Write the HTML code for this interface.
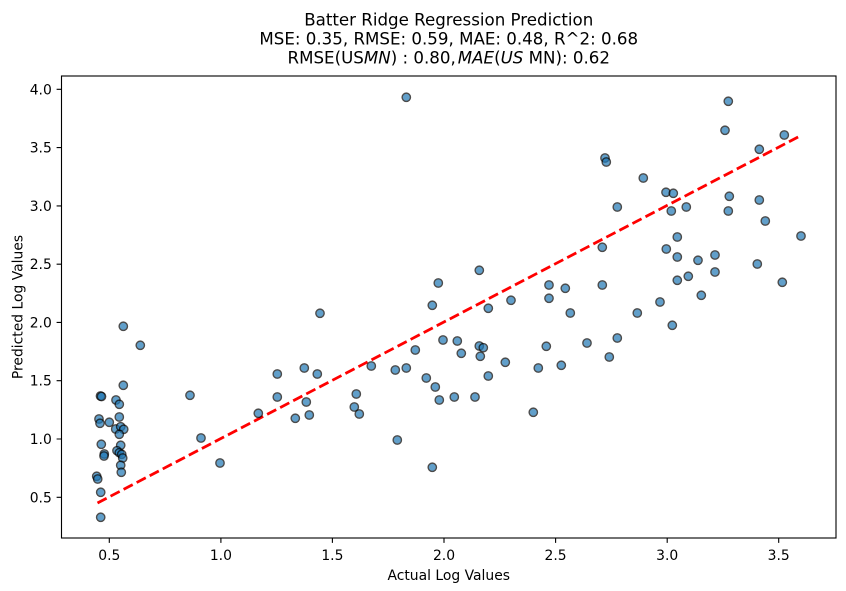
<!DOCTYPE html>
<html>
<head>
<meta charset="utf-8">
<style>
  html, body { margin: 0; padding: 0; background: #fff; }
  body { width: 846px; height: 591px; overflow: hidden; }
  svg { display: block; }
  text { font-family: "DejaVu Sans", "Liberation Sans", sans-serif; fill: #000; }
</style>
</head>
<body>
<svg id="chart" width="846" height="591" viewBox="0 0 846 591" xmlns="http://www.w3.org/2000/svg">
  <rect x="0" y="0" width="846" height="591" fill="#fff"/>
  <text x="448.75" y="25.3" font-size="16.67" text-anchor="middle">Batter Ridge Regression Prediction</text>
  <text x="448.75" y="44.4" font-size="16.67" text-anchor="middle">MSE: 0.35, RMSE: 0.59, MAE: 0.48, R^2: 0.68</text>
  <text x="448.75" y="63.5" font-size="16.67" text-anchor="middle">RMSE(US<tspan font-style="italic">MN</tspan>) : 0.80,<tspan font-style="italic" dx="2">MAE</tspan>(<tspan font-style="italic">US</tspan> MN): 0.62</text>
  <line x1="97.5" y1="503" x2="801" y2="135.5" stroke="#ff0000" stroke-width="2.78" stroke-dasharray="10.28 4.44"/>
  <g id="pts" fill="#1f77b4" stroke="#000" stroke-width="1.39"></g>
  <rect x="61.5" y="76" width="774.5" height="462" fill="none" stroke="#000" stroke-width="1.11"/>
  <path stroke="#000" stroke-width="1.11" fill="none" d="M109.3 538v4.9M220.9 538v4.9M332.4 538v4.9M444 538v4.9M555.6 538v4.9M667.2 538v4.9M778.7 538v4.9M61.5 497.3h-4.9M61.5 439h-4.9M61.5 380.7h-4.9M61.5 322.4h-4.9M61.5 264.2h-4.9M61.5 205.9h-4.9M61.5 147.6h-4.9M61.5 89.3h-4.9"/>
  <g font-size="13.9" text-anchor="middle">
    <text x="109.3" y="560">0.5</text>
    <text x="220.9" y="560">1.0</text>
    <text x="332.4" y="560">1.5</text>
    <text x="444.0" y="560">2.0</text>
    <text x="555.6" y="560">2.5</text>
    <text x="667.2" y="560">3.0</text>
    <text x="778.7" y="560">3.5</text>
  </g>
  <g font-size="13.9" text-anchor="end">
    <text x="51.8" y="502.3">0.5</text>
    <text x="51.8" y="444.0">1.0</text>
    <text x="51.8" y="385.7">1.5</text>
    <text x="51.8" y="327.4">2.0</text>
    <text x="51.8" y="269.2">2.5</text>
    <text x="51.8" y="210.9">3.0</text>
    <text x="51.8" y="152.6">3.5</text>
    <text x="51.8" y="94.3">4.0</text>
  </g>
  <text x="448.75" y="580" font-size="13.9" text-anchor="middle">Actual Log Values</text>
  <text x="0" y="0" font-size="13.9" text-anchor="middle" transform="translate(22.5,307) rotate(-90)">Predicted Log Values</text>
</svg>
<script>
(function(){
  var d = "123.3,326.3 140.3,345.3 123.3,385.3 100.5,396 101.5,396.5 190,395.3 116,400 119.3,404.3 119.3,417 99,419 100,423.3 109.3,422.3 115.7,429 120.7,426.7 123.7,429.3 119.3,434.3 201,438 101.3,444.3 120.7,445.3 117,450.7 119.3,452.7 121.7,454.3 122.7,458 104.3,454 104,456 120.7,465.3 121.3,472.3 220,463 96.7,476.3 97.7,479 100.7,492.3 100.7,517.3 " +
    "438.3,283 432.3,305.3 320,313.3 443,340 457.3,341 461.3,353.3 415.3,350 371.3,366 395.3,370 406.3,368 304.3,368 277.3,374 317.3,374 426.3,378 435.3,387 439.3,400 454.3,397 356.3,394 277.3,397 306.3,402 354.3,407 359.3,414 258.3,413.3 295.3,418.3 309.3,415 397.3,440 432.3,467.3 406.3,97.3 " +
    "602.3,247.3 479.3,270.3 549,285 565.3,288.3 602.3,285 511,300.3 549,298.3 488.3,308.3 660,302 570.3,313 637.3,313 479.3,346 483.3,347.7 480.3,356.3 546.3,346.3 587,343 617.3,338 609.3,357 505.3,362.3 538.3,368 561.3,365.3 488.3,376 475,397 533.3,412.3 " +
    "728.3,101.3 725,130.3 784.3,135 759.3,149.3 605,158 606.3,162 643.3,178 666,192.3 673.3,193.3 729.3,196.3 759.3,200 617.3,207 686.3,207 671.3,211 728.3,211 765.3,221 801,236 677.3,237 666.3,249 677.3,257 698,260.3 715,255 715,272 757.3,264 677.3,280.3 688.3,276.3 782.3,282.3 701.3,295.3 672.3,325.3";
  var g = document.getElementById("pts");
  var ns = "http://www.w3.org/2000/svg";
  d.trim().split(/\s+/).forEach(function(p){
    var xy = p.split(",");
    var c = document.createElementNS(ns, "circle");
    c.setAttribute("cx", xy[0]);
    c.setAttribute("cy", xy[1]);
    c.setAttribute("r", "4.17");
    c.setAttribute("opacity", "0.7");
    g.appendChild(c);
  });
})();
</script>
</body>
</html>
